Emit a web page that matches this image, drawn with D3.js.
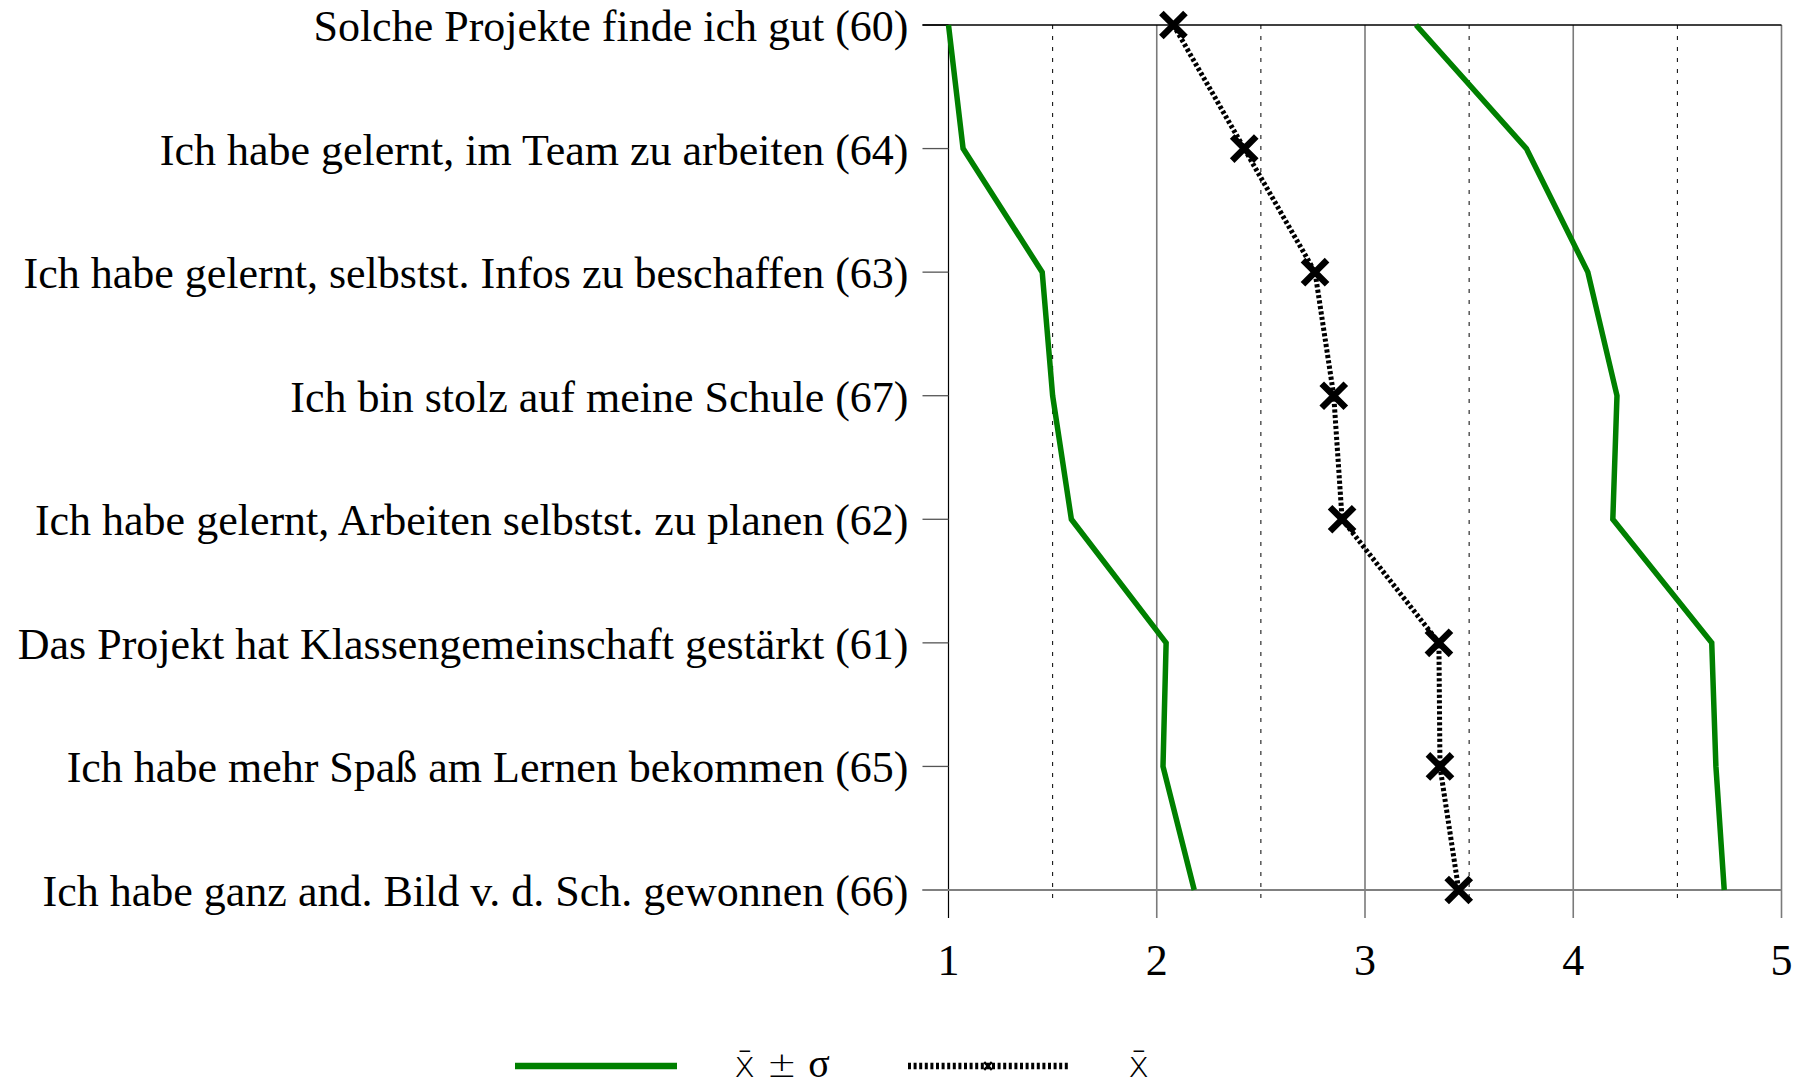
<!DOCTYPE html>
<html>
<head>
<meta charset="utf-8">
<script src="https://cdn.jsdelivr.net/npm/d3@7"></script>
<style>
  html, body { margin: 0; padding: 0; background: #fff; }
  svg { display: block; }
</style>
</head>
<body>
<svg id="chart" width="1798" height="1087"></svg>
<script>
// Survey items (number of answers in brackets), top to bottom
const items = [
  "Solche Projekte finde ich gut (60)",
  "Ich habe gelernt, im Team zu arbeiten (64)",
  "Ich habe gelernt, selbstst. Infos zu beschaffen (63)",
  "Ich bin stolz auf meine Schule (67)",
  "Ich habe gelernt, Arbeiten selbstst. zu planen (62)",
  "Das Projekt hat Klassengemeinschaft gestärkt (61)",
  "Ich habe mehr Spaß am Lernen bekommen (65)",
  "Ich habe ganz and. Bild v. d. Sch. gewonnen (66)"
];
// Mean per item
const means = [2.08, 2.42, 2.76, 2.85, 2.89, 3.355, 3.36, 3.45];
// Mean minus / plus one standard deviation
const lowerBand = [1.00, 1.07, 1.45, 1.50, 1.59, 2.045, 2.03, 2.18];
const upperBand = [3.245, 3.775, 4.07, 4.21, 4.19, 4.665, 4.685, 4.725];
// Scale ticks
const majorTicks = [1, 2, 3, 4, 5];
const minorTicks = [1.5, 2.5, 3.5, 4.5];
const meanSymbol = "x\u0304";

const svg = d3.select("#chart");
const serif = "'Liberation Serif', 'Times New Roman', serif";
const sans = "'DejaVu Sans', sans-serif";

const x = d3.scaleLinear().domain([1, 5]).range([948.5, 1781.5]);
const y = d3.scalePoint().domain(d3.range(items.length)).range([25, 890]);
const plotTop = y(0), plotBottom = y(items.length - 1);

// dotted half-step grid lines
svg.append("g").selectAll("line").data(minorTicks).join("line")
  .attr("x1", d => x(d)).attr("x2", d => x(d))
  .attr("y1", plotTop).attr("y2", plotBottom + 14)
  .attr("stroke", "#000").attr("stroke-width", 1)
  .attr("stroke-dasharray", "4,7");

// solid grid lines at whole steps (first one is the value axis)
svg.append("g").selectAll("line").data(majorTicks).join("line")
  .attr("x1", d => x(d)).attr("x2", d => x(d))
  .attr("y1", plotTop).attr("y2", plotBottom + 28)
  .attr("stroke", d => d === 1 ? "#000" : "#7a7a7a")
  .attr("stroke-width", d => d === 1 ? 1.2 : 1.6);

// category ticks on the left
svg.append("g").selectAll("line").data(d3.range(items.length)).join("line")
  .attr("x1", x(1) - 26).attr("x2", x(1))
  .attr("y1", d => y(d)).attr("y2", d => y(d))
  .attr("stroke", d => d === 0 ? "#000" : "#555").attr("stroke-width", 1.3);

// top border and bottom axis
svg.append("line")
  .attr("x1", x(1) - 26).attr("x2", x(5))
  .attr("y1", plotTop).attr("y2", plotTop)
  .attr("stroke", "#000").attr("stroke-width", 1.6);
svg.append("line")
  .attr("x1", x(1) - 26).attr("x2", x(5))
  .attr("y1", plotBottom).attr("y2", plotBottom)
  .attr("stroke", "#808080").attr("stroke-width", 2.2);

// category labels
svg.append("g").selectAll("text").data(items).join("text")
  .attr("x", x(1) - 40).attr("y", (d, i) => y(i) + 16)
  .attr("text-anchor", "end")
  .attr("font-family", serif).attr("font-size", 44)
  .attr("fill", "#000")
  .text(d => d);

// scale labels
svg.append("g").selectAll("text").data(majorTicks).join("text")
  .attr("x", d => x(d)).attr("y", 975)
  .attr("text-anchor", "middle")
  .attr("font-family", serif).attr("font-size", 44)
  .attr("fill", "#000")
  .text(d => d);

// mean +/- sd lines
const band = d3.line().x(d => x(d.v)).y(d => y(d.i));
[lowerBand, upperBand].forEach(arr => {
  svg.append("path")
    .datum(arr.map((v, i) => ({v, i})))
    .attr("d", band)
    .attr("fill", "none").attr("stroke", "#008000")
    .attr("stroke-width", 5.5).attr("stroke-linejoin", "miter");
});

// mean line
svg.append("path")
  .datum(means.map((v, i) => ({v, i})))
  .attr("d", band)
  .attr("fill", "none").attr("stroke", "#000")
  .attr("stroke-width", 5).attr("stroke-dasharray", "3.2,2.3");

// mean markers
const cross = d3.symbol(d3.symbolTimes, 380);
svg.append("g").selectAll("path").data(means).join("path")
  .attr("transform", (d, i) => `translate(${x(d)},${y(i)})`)
  .attr("d", cross)
  .attr("fill", "none").attr("stroke", "#000").attr("stroke-width", 6.5);

// legend
const lg = svg.append("g");
lg.append("line").attr("x1", 515).attr("x2", 677).attr("y1", 1066).attr("y2", 1066)
  .attr("stroke", "#008000").attr("stroke-width", 6.5);
const t1 = lg.append("text").attr("x", 734).attr("y", 1077)
  .attr("font-family", sans).attr("font-weight", 300)
  .attr("font-size", 36).attr("fill", "#000");
t1.append("tspan").text(meanSymbol + " \u00B1 ");
t1.append("tspan").attr("font-family", serif).attr("font-size", 40).text("\u03C3");
lg.append("line").attr("x1", 908).attr("x2", 1069).attr("y1", 1066).attr("y2", 1066)
  .attr("stroke", "#000").attr("stroke-width", 6.5).attr("stroke-dasharray", "3,2.6");
lg.append("path").attr("transform", "translate(988,1066)")
  .attr("d", d3.symbol(d3.symbolTimes, 40))
  .attr("fill", "none").attr("stroke", "#000").attr("stroke-width", 2.5);
lg.append("text").attr("x", 1128).attr("y", 1077)
  .attr("font-family", sans).attr("font-weight", 300)
  .attr("font-size", 36).attr("fill", "#000").text(meanSymbol);
</script>
</body>
</html>
